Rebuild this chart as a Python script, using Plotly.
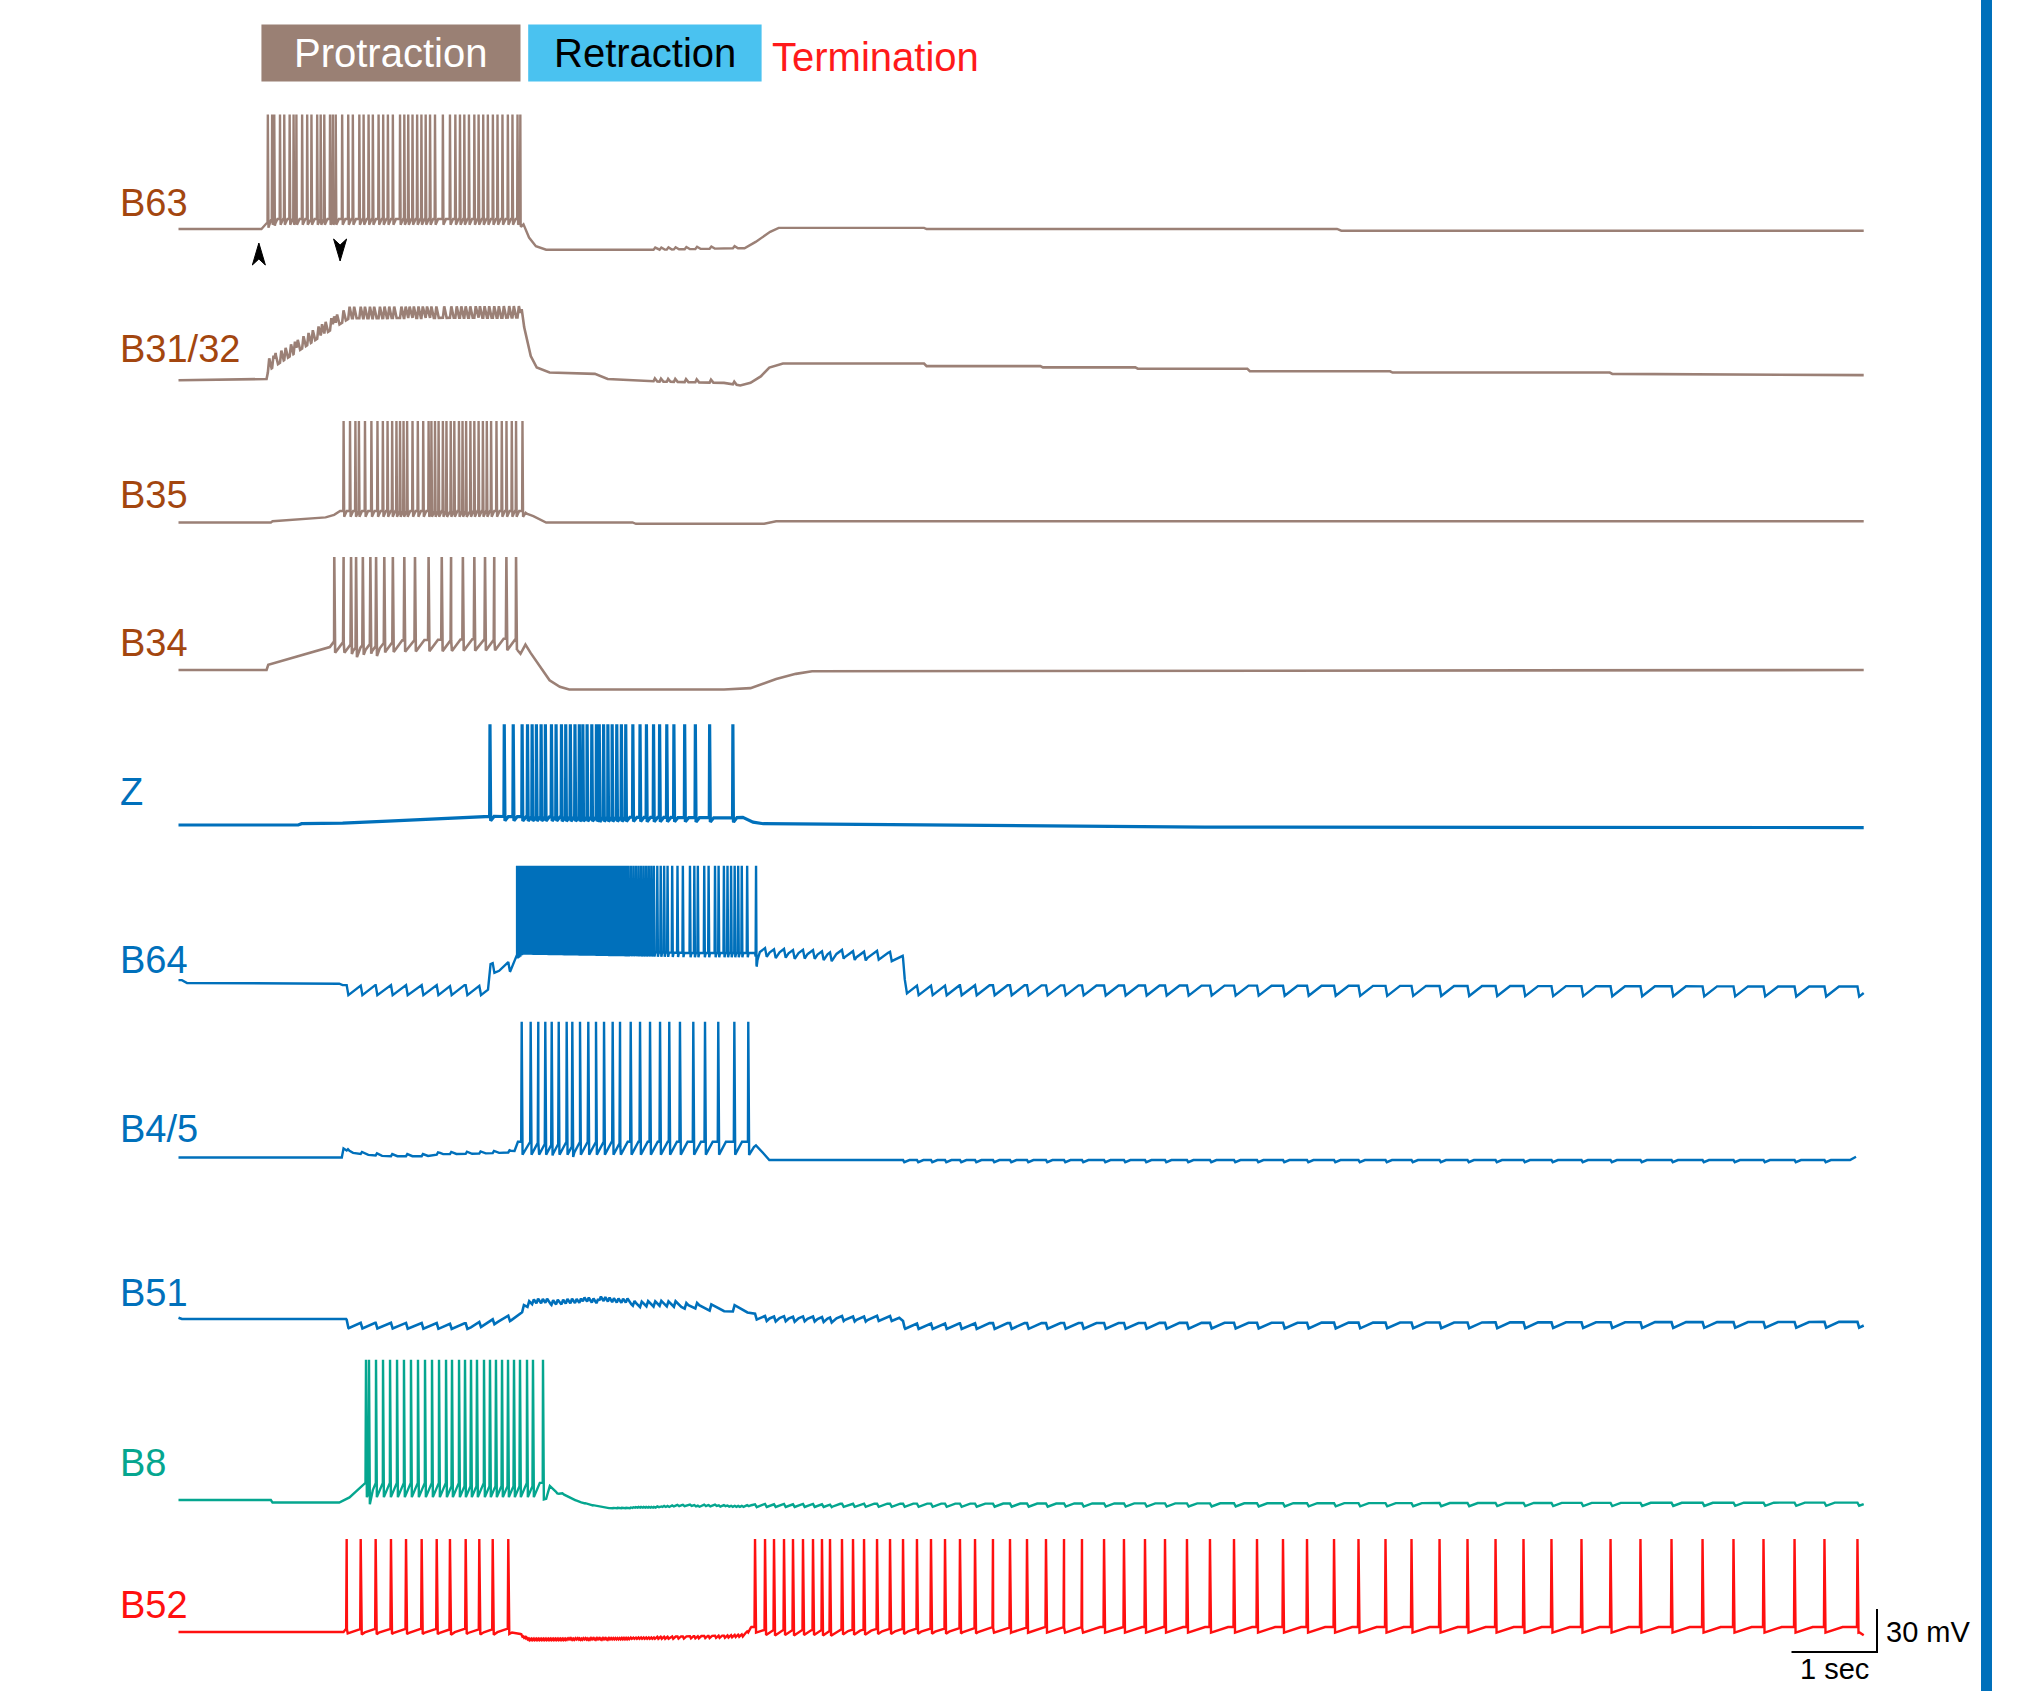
import numpy as np
import plotly.graph_objects as go

# ------------------------------------------------------------------
# DATA  (time in s, membrane potential in mV relative to rest)
# ------------------------------------------------------------------
PHASES = ["Protraction", "Retraction", "Termination"]
PHASE_START = [0.97, 4.09, 6.92]
PHASE_END = [4.00, 6.82, None]
ARROW_TIMES = [0.94, 1.89]          # markers under B63
ARROW_DIRS = ["up", "down"]
SCALE_MV = 30
SCALE_S = 1

# --- B63 ---
B63_base_t = [0, 0.97, 1.03, 1.10, 3.98, 4.03, 4.10, 4.18, 4.30, 5.60, 6.45, 6.62, 6.75, 6.92, 7.02, 8.72, 8.75, 13.55, 13.60, 19.71]
B63_base_v = [0, 0, 4, 7, 7, 4, -6, -12, -14.5, -14.5, -13.5, -13.5, -9, -2, 0.8, 0.8, 0, 0, -1.2, -1.2]
B63_spikes = [1.045, 1.095, 1.120, 1.187, 1.237, 1.300, 1.346, 1.379, 1.446, 1.505,
              1.555, 1.622, 1.663, 1.705, 1.772, 1.805, 1.839, 1.914, 1.985, 2.039,
              2.115, 2.165, 2.223, 2.273, 2.340, 2.394, 2.449, 2.507, 2.591, 2.641, 2.687,
              2.737, 2.791, 2.841, 2.891, 2.942, 3.000, 3.092, 3.175, 3.238, 3.292, 3.343, 3.397,
              3.460, 3.510, 3.564, 3.618, 3.677, 3.731, 3.789, 3.852, 3.906, 3.965, 3.998]
B63_peak = 80

# --- B31/32 ---
B3132_base_t = [0, 1.03, 1.05, 1.92, 2.0, 4.00, 4.04, 4.12, 4.19, 4.34, 4.87, 5.02, 5.63, 6.38, 6.57, 6.69, 6.81,
                6.91, 7.07, 8.72, 8.75, 10.08, 10.11, 11.19, 11.22, 12.50, 12.53, 14.17, 14.20, 16.74, 16.77, 19.71]
B3132_base_v = [-0.9, 0, 6, 39.6, 42.5, 43, 37, 16, 8, 4.5, 3.6, 0, -1.8, -2.7, -4.5, -2.7, 1.8,
                8, 10.8, 10.8, 9, 9, 8.1, 8.1, 7.2, 7.2, 5.4, 5.4, 4.5, 4.5, 3.6, 2.7]
B3132_spikes = []
B3132_peak = 0

# --- B35 ---
B35_base_t = [0, 1.08, 1.10, 1.72, 1.82, 1.89, 4.03, 4.08, 4.15, 4.30, 5.31, 5.35, 6.85, 6.99, 19.71]
B35_base_v = [0, 0, 0.9, 3.6, 5.4, 8, 8, 6, 4.5, 0, 0, -0.9, -0.9, 0.9, 0.9]
B35_spikes = [1.931, 2.006, 2.069, 2.110, 2.181, 2.256, 2.327, 2.390, 2.445, 2.499, 2.549, 2.591, 2.632, 2.674,
              2.737, 2.799, 2.862, 2.925, 2.958, 3.000, 3.042, 3.092, 3.134, 3.184, 3.226, 3.280, 3.322, 3.364,
              3.414, 3.460, 3.510, 3.560, 3.606, 3.656, 3.719, 3.781, 3.836, 3.898, 3.948, 4.023]
B35_peak = 71

# --- B34 ---
B34_base_t = [0, 1.03, 1.05, 1.77, 1.82, 3.96, 4.00, 4.05, 4.12, 4.24, 4.34, 4.46, 4.57, 6.38, 6.69, 6.99, 7.22, 7.41, 19.71]
B34_base_v = [0, 0, 3.6, 16, 20, 22, 16, 18.5, 11.8, 1.8, -7.2, -11.8, -13.6, -13.6, -12.7, -6.3, -2.7, -0.9, 0]
B34_spikes = [1.822, 1.931, 2.018, 2.077, 2.156, 2.244, 2.311, 2.407, 2.507, 2.641, 2.766, 2.925, 3.079, 3.188,
              3.326, 3.460, 3.585, 3.693, 3.835, 3.948]
B34_peak = 79

# --- Z ---
Z_base_t = [0, 1.40, 1.44, 1.92, 2.45, 3.13, 3.50, 3.63, 6.49, 6.60, 6.72, 6.84, 12.0, 19.71]
Z_base_v = [0, 0, 0.9, 1.3, 2.7, 4.5, 5.4, 6, 5, 5.4, 2, 0.9, -1.5, -1.8]
Z_spikes = [3.643, 3.810, 3.915, 4.019, 4.082, 4.136, 4.186, 4.241, 4.291, 4.362, 4.416, 4.479, 4.529, 4.583,
            4.637, 4.688, 4.729, 4.779, 4.834, 4.888, 4.921, 4.972, 5.022, 5.072, 5.126, 5.180, 5.231, 5.314,
            5.398, 5.473, 5.556, 5.627, 5.711, 5.794, 5.920, 6.045, 6.212, 6.484]
Z_peak = 70.5

# --- B64 ---
B64_base_t = [0, 0.04, 0.10, 1.88, 1.92, 3.62, 3.65, 3.75, 3.88, 3.96, 5.0, 6.0, 6.76, 6.80, 7.6, 8.30, 8.47, 8.52, 19.71]
B64_base_v = [2, 2, 0, -0.5, -1.5, -1.5, 15, 13, 15, 23, 22, 21, 21, 27, 25, 23, 20, -1.5, -2.5]
B64_spikes = [3.960, 3.975, 3.990, 4.010, 4.030, 4.050, 4.070, 4.090, 4.110, 4.130, 4.150, 4.170, 4.190,
              4.210, 4.230, 4.250, 4.270, 4.290, 4.310, 4.330, 4.350, 4.370, 4.390, 4.410, 4.430, 4.450,
              4.470, 4.490, 4.510, 4.530, 4.555, 4.580, 4.600, 4.620, 4.645, 4.670, 4.690, 4.710, 4.735,
              4.760, 4.780, 4.800, 4.825, 4.850, 4.870, 4.895, 4.920, 4.940, 4.965, 4.990, 5.010, 5.035,
              5.060, 5.085, 5.110, 5.135, 5.160, 5.185, 5.210, 5.235, 5.260, 5.290, 5.320, 5.350, 5.380,
              5.410, 5.440, 5.470, 5.500, 5.530, 5.560, 5.600, 5.640, 5.680, 5.720, 5.774, 5.836, 5.899,
              5.982, 6.033, 6.074, 6.149, 6.200, 6.275, 6.317, 6.379, 6.421, 6.463, 6.505, 6.546, 6.588,
              6.651, 6.755]
B64_peak = 82

# --- B4/5 ---
B45_base_t = [0, 1.91, 1.93, 2.0, 2.22, 2.45, 2.90, 3.06, 3.51, 3.89, 3.93, 3.97, 6.66, 6.73, 6.84, 6.91, 19.55, 19.62]
B45_base_v = [0, 0, 6.3, 3.6, 1.8, 0.9, 0.9, 2.3, 2.7, 3.6, 4.5, 11, 11, 10, 3, -1.8, -1.8, 0.5]
B45_spikes = [4.014, 4.119, 4.208, 4.290, 4.365, 4.447, 4.540, 4.606, 4.696, 4.793, 4.883, 4.977, 5.078,
              5.164, 5.289, 5.398, 5.515, 5.632, 5.740, 5.865, 6.021, 6.158, 6.313, 6.501, 6.664]
B45_peak = 95

# --- B51 ---
B51_base_t = [0, 0.04, 1.96, 1.99, 3.42, 3.54, 3.74, 3.89, 4.04, 5.0, 6.08, 6.61, 6.76, 8.43, 8.50, 19.71]
B51_base_v = [0.9, 0, 0, -2.5, -3.0, -1.5, 0.9, 2.7, 5.3, 5.5, 6, 5, 3.6, 2.5, -3.0, -2.0]
B51_spikes = []
B51_peak = 0

# --- B8 ---
B8_base_t = [0, 1.08, 1.10, 1.88, 2.00, 2.09, 2.18, 4.26, 4.30, 4.34, 4.42, 4.49, 4.64, 4.80, 5.02, 6.7, 19.71]
B8_base_v = [0, 0, -1.8, -1.8, 1.8, 7, 12, 12, 7, 10, 5.5, 8, 3, 0, -2.7, -2.7, -1.8]
B8_spikes = [2.193, 2.228, 2.310, 2.392, 2.474, 2.556, 2.637, 2.719, 2.801, 2.883, 2.965, 3.047, 3.129, 3.199,
             3.281, 3.351, 3.421, 3.491, 3.573, 3.643, 3.713, 3.784, 3.854, 3.924, 3.994, 4.076, 4.146, 4.263]
B8_peak = 98

# --- B52 ---
B52_base_t = [0, 1.93, 1.97, 3.90, 4.00, 4.10, 5.80, 6.40, 6.62, 6.70, 19.66, 19.71]
B52_base_v = [0, 0, 3, 3, 0, -3.6, -3.2, -2.5, -1.5, 3.5, 3.5, 0.5]
B52_spikes = [1.967, 2.131, 2.306, 2.485, 2.661, 2.844, 3.020, 3.175, 3.359, 3.518, 3.675, 3.857,
              6.743, 6.860, 6.965, 7.082, 7.187, 7.304, 7.421, 7.526, 7.620, 7.760, 7.889, 8.018, 8.170,
              8.322, 8.474, 8.637, 8.801, 8.965, 9.140, 9.316, 9.526, 9.725, 9.924, 10.146, 10.357, 10.567,
              10.825, 11.058, 11.304, 11.538, 11.795, 12.064, 12.345, 12.614, 12.918, 13.199, 13.515, 13.801,
              14.117, 14.421, 14.749, 15.076, 15.404, 15.731, 16.058, 16.409, 16.749, 17.099, 17.462, 17.825,
              18.187, 18.538, 18.901, 19.251, 19.637]
B52_peak = 65

# synaptic / coupling potentials: (source spike times, amplitude mV, window start, window end)
B3132_psp = [(B63_spikes, 8.0, 1.0, 4.02), (Z_spikes, 2.0, 5.55, 6.6)]
B63_psp = [(Z_spikes, 1.5, 5.55, 6.55)]
B64_psp = [(B52_spikes, -7.0, 0, 20)]
B45_psp = [(B52_spikes, 1.5, 1.9, 3.95), (B52_spikes, -1.5, 8.4, 20)]
B51_psp = [(B52_spikes, -4.0, 0, 20), (Z_spikes, 4.5, 3.95, 6.7)]
B8_psp = [(B52_spikes, -2.2, 6.7, 20), (B64_spikes, -1.2, 4.4, 6.7)]
B52_psp = [(B64_spikes, -1.5, 4.0, 6.7)]

# ------------------------------------------------------------------
# STYLE / LAYOUT
# ------------------------------------------------------------------
W, H = 2028, 1691
PX_PER_S = 85.5
PX_PER_MV = 1.43
X0_PX = 178.5

BROWN = "#9b8076"
BLUE = "#0070bb"
TEAL = "#05a68f"
RED = "#ff1010"
LBL_BROWN = "#a3460f"

TRACES = [
    dict(label="B63", bt=B63_base_t, bv=B63_base_v, sp=B63_spikes, pk=B63_peak, psp=B63_psp,
         y0=229, ly=203, col=BROWN, lcol=LBL_BROWN, lw=2.4, sk=(0.004, 0.007, 4, 0.03), pk_k=(0.02, 0.04)),
    dict(label="B31/32", bt=B3132_base_t, bv=B3132_base_v, sp=B3132_spikes, pk=B3132_peak, psp=B3132_psp,
         y0=379, ly=349, col=BROWN, lcol=LBL_BROWN, lw=2.6, sk=(0.006, 0.008, 3, 0.03), pk_k=(0.016, 0.028)),
    dict(label="B35", bt=B35_base_t, bv=B35_base_v, sp=B35_spikes, pk=B35_peak, psp=[],
         y0=522.5, ly=495, col=BROWN, lcol=LBL_BROWN, lw=2.4, sk=(0.004, 0.007, 4, 0.03), pk_k=(0.02, 0.04)),
    dict(label="B34", bt=B34_base_t, bv=B34_base_v, sp=B34_spikes, pk=B34_peak, psp=[],
         y0=670, ly=643, col=BROWN, lcol=LBL_BROWN, lw=2.6, sk=(0.006, 0.010, 8, 0.10), pk_k=(0.02, 0.04)),
    dict(label="Z", bt=Z_base_t, bv=Z_base_v, sp=Z_spikes, pk=Z_peak, psp=[],
         y0=825, ly=792, col=BLUE, lcol=BLUE, lw=3.2, sk=(0.004, 0.008, 3, 0.04), pk_k=(0.02, 0.04)),
    dict(label="B64", bt=B64_base_t, bv=B64_base_v, sp=B64_spikes, pk=B64_peak, psp=B64_psp,
         y0=983, ly=960, col=BLUE, lcol=BLUE, lw=2.4, sk=(0.005, 0.007, 3, 0.01), pk_k=(0.02, 0.15)),
    dict(label="B4/5", bt=B45_base_t, bv=B45_base_v, sp=B45_spikes, pk=B45_peak, psp=B45_psp,
         y0=1157.5, ly=1129, col=BLUE, lcol=BLUE, lw=2.4, sk=(0.006, 0.010, 9, 0.08), pk_k=(0.015, 0.06)),
    dict(label="B51", bt=B51_base_t, bv=B51_base_v, sp=B51_spikes, pk=B51_peak, psp=B51_psp,
         y0=1319, ly=1293, col=BLUE, lcol=BLUE, lw=2.6, sk=(0.006, 0.010, 3, 0.03), pk_k=(0.02, 0.15)),
    dict(label="B8", bt=B8_base_t, bv=B8_base_v, sp=B8_spikes, pk=B8_peak, psp=B8_psp,
         y0=1500, ly=1463, col=TEAL, lcol=TEAL, lw=2.4, sk=(0.006, 0.010, 10, 0.07), pk_k=(0.02, 0.10)),
    dict(label="B52", bt=B52_base_t, bv=B52_base_v, sp=B52_spikes, pk=B52_peak, psp=B52_psp,
         y0=1632, ly=1605, col=RED, lcol=RED, lw=2.4, sk=(0.006, 0.012, 4, 0.20), pk_k=(0.012, 0.03)),
]


def ypx(py):
    return -py / PX_PER_MV


def xpx(px):
    return (px - X0_PX) / PX_PER_S


def build(bt, bv, spikes, peak, sk, psps, pk_k):
    bt = np.asarray(bt, float)
    bv = np.asarray(bv, float)
    w1, w2, ahp, rec = sk
    rise, dec = pk_k
    sp = np.asarray(spikes, float)
    pts = list(bt)
    for ts in sp:
        pts += [ts - w1, ts + w2, ts + w2 + rec]
    ev = []
    for src, amp, t0, t1 in psps:
        for te in src:
            if t0 <= te <= t1:
                ev.append((te, amp))
                pts += [te, te + rise, te + rise + dec]
    T = np.unique(np.clip(np.asarray(pts, float), bt[0], bt[-1]))
    V = np.interp(T, bt, bv)
    for ts in sp:
        V += np.interp(T - ts, [0, w2, w2 + rec], [0, -ahp, 0], left=0, right=0)
    for te, amp in ev:
        V += np.interp(T - te, [0, rise, rise + dec], [0, amp, 0], left=0, right=0)
    T = np.concatenate([T, sp])
    V = np.concatenate([V, np.full(len(sp), float(peak))])
    order = np.argsort(T, kind="stable")
    return T[order], V[order]


FONT = "Liberation Sans, Arial, Helvetica, sans-serif"
fig = go.Figure()
annotations = []
shapes = []

for tr in TRACES:
    t, v = build(tr["bt"], tr["bv"], tr["sp"], tr["pk"], tr["sk"], tr["psp"], tr["pk_k"])
    fig.add_trace(go.Scatter(x=t, y=v + ypx(tr["y0"]), mode="lines",
                             line=dict(color=tr["col"], width=tr["lw"]),
                             name=tr["label"], hoverinfo="skip", showlegend=False))
    annotations.append(dict(x=118 / W, y=1 - tr["ly"] / H, xref="paper", yref="paper",
                            text=tr["label"], showarrow=False, xanchor="left", yanchor="middle",
                            font=dict(family=FONT, size=38, color=tr["lcol"])))

# stealth arrowheads under B63 (built from the marker times)
HALF_W = 6.5 / PX_PER_S
for ta, d in zip(ARROW_TIMES, ARROW_DIRS):
    if d == "up":
        tip, base, notch = ypx(243), ypx(265), ypx(259)
    else:
        tip, base, notch = ypx(261), ypx(239), ypx(245)
    path = (f"M{ta},{tip} L{ta - HALF_W},{base} L{ta},{notch} L{ta + HALF_W},{base} Z")
    shapes.append(dict(type="path", xref="x", yref="y", path=path, fillcolor="black",
                       line=dict(color="black", width=1)))

# scale bars
sb_x1 = xpx(1877)
sb_y0 = ypx(1652)
fig.add_trace(go.Scatter(x=[sb_x1 - SCALE_S, sb_x1, sb_x1], y=[sb_y0, sb_y0, sb_y0 + SCALE_MV],
                         mode="lines", line=dict(color="black", width=2),
                         hoverinfo="skip", showlegend=False))
annotations.append(dict(x=xpx(1884), y=ypx(1632), xref="x", yref="y", text=f"{SCALE_MV} mV",
                        showarrow=False, xanchor="left", yanchor="middle",
                        font=dict(family=FONT, size=29, color="black")))
annotations.append(dict(x=sb_x1 - SCALE_S / 2, y=ypx(1669), xref="x", yref="y", text=f"{SCALE_S} sec",
                        showarrow=False, xanchor="center", yanchor="middle",
                        font=dict(family=FONT, size=29, color="black")))

# phase header
box_cols = ["#9a8074", "#4ac2f0"]
txt_cols = ["white", "black"]
yb0, yb1 = 1 - 81.5 / H, 1 - 24.6 / H
for i in range(2):
    shapes.append(dict(type="rect", xref="x", yref="paper", x0=PHASE_START[i], x1=PHASE_END[i],
                       y0=yb0, y1=yb1, fillcolor=box_cols[i], line=dict(width=0), layer="below"))
    annotations.append(dict(x=(PHASE_START[i] + PHASE_END[i]) / 2, y=(yb0 + yb1) / 2, xref="x", yref="paper",
                            text=PHASES[i], showarrow=False, xanchor="center", yanchor="middle",
                            font=dict(family=FONT, size=40, color=txt_cols[i])))
annotations.append(dict(x=PHASE_START[2], y=1 - 57 / H, xref="x", yref="paper", text=PHASES[2],
                        showarrow=False, xanchor="left", yanchor="middle",
                        font=dict(family=FONT, size=40, color="#ff1a1a")))

# right-hand blue bar
shapes.append(dict(type="rect", xref="paper", yref="paper", x0=1981 / W, x1=1992 / W, y0=0, y1=1,
                   fillcolor=BLUE, line=dict(width=0)))

fig.update_layout(
    width=W, height=H, margin=dict(l=0, r=0, t=0, b=0),
    paper_bgcolor="white", plot_bgcolor="white",
    xaxis=dict(range=[xpx(0), xpx(W)], visible=False, fixedrange=True),
    yaxis=dict(range=[ypx(H), ypx(0)], visible=False, fixedrange=True),
    shapes=shapes, annotations=annotations, showlegend=False,
)

fig.write_html("out.html", config={"displayModeBar": False},
               post_script="document.body.style.margin='0';document.body.style.overflow='hidden';")
